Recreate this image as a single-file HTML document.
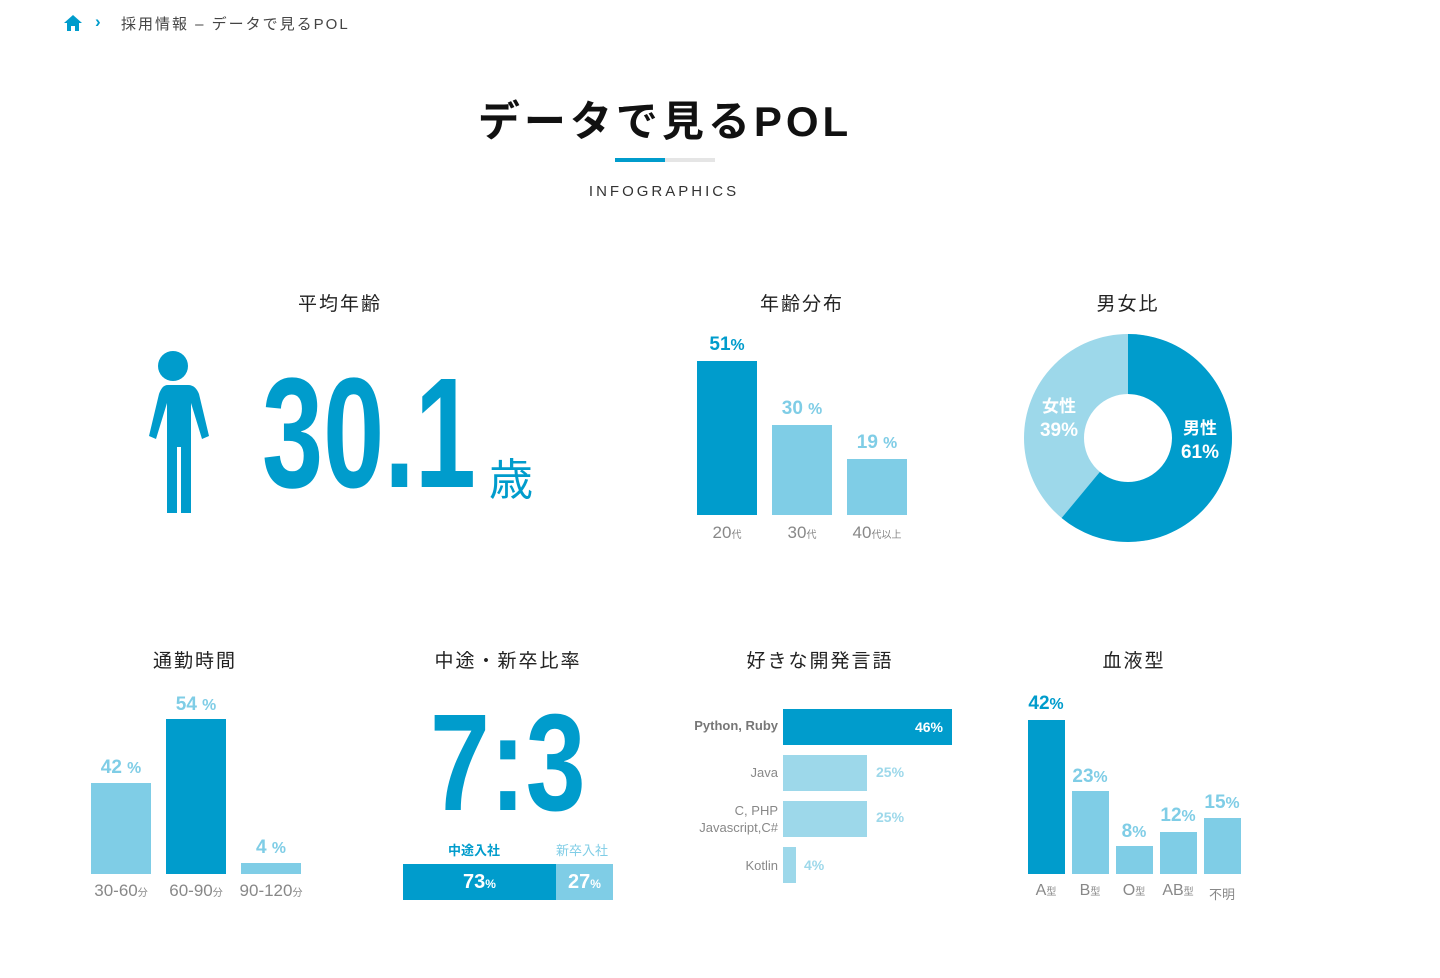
<!DOCTYPE html>
<html><head><meta charset="utf-8"><style>
body{margin:0;width:1440px;height:978px;background:#fff;position:relative;overflow:hidden;font-family:"Liberation Sans","Noto Sans CJK JP",sans-serif;color:#222}
.a{position:absolute}
.t{position:absolute;font-size:19px;letter-spacing:2px;text-align:center;width:300px;color:#222}
.dk{background:#009ccc}.lt{background:#7fcde6}.lt2{background:#9dd8ea}
.pc{position:absolute;font-weight:bold;font-size:19px;text-align:center;width:80px}
.lb{position:absolute;color:#888;font-size:17px;text-align:center;width:80px}
.lb small{font-size:10px}
</style></head><body>
<svg class="a" style="left:63px;top:14px" width="20" height="18" viewBox="0 0 20 18"><path d="M10 1L1 9h3v8h4v-5h4v5h4V9h3z" fill="#009ccc"/></svg>
<div class="a" style="left:95px;top:12px;color:#009ccc;font-size:17px;font-weight:bold">&#8250;</div>
<div class="a" style="left:121px;top:13px;font-size:15px;color:#444;letter-spacing:2px">採用情報 – データで見るPOL</div>
<div class="a" style="left:0;width:1330px;top:88px;text-align:center;font-size:42px;font-weight:bold;letter-spacing:4px;color:#111">データで見るPOL</div>
<div class="a" style="left:615px;top:158px;width:50px;height:4px;background:#009ccc"></div>
<div class="a" style="left:665px;top:158px;width:50px;height:4px;background:#e5e5e5"></div>
<div class="a" style="left:514px;width:300px;top:183px;text-align:center;font-size:15px;letter-spacing:3px;color:#333">INFOGRAPHICS</div>

<div class="t" style="left:190px;top:289px">平均年齢</div>
<div class="t" style="left:652px;top:289px">年齢分布</div>
<div class="t" style="left:978px;top:289px">男女比</div>
<div class="t" style="left:45px;top:646px">通勤時間</div>
<div class="t" style="left:358px;top:646px">中途・新卒比率</div>
<div class="t" style="left:670px;top:646px">好きな開発言語</div>
<div class="t" style="left:984px;top:646px">血液型</div>

<svg class="a" style="left:136px;top:349px" width="74" height="168" viewBox="0 0 74 168"><circle cx="37" cy="17" r="15" fill="#009ccc"/><path d="M22 36h30c6 0 9 4 11 9l10 42-7 3-11-36v110h-10V98h-4v66H31V54L20 90l-7-3 10-42c2-5 4-9 9-9z" fill="#009ccc"/></svg>
<div class="a" style="left:262px;top:355px;font-size:157px;font-weight:bold;color:#009ccc;line-height:157px;transform:scaleX(0.7);transform-origin:0 0;white-space:nowrap">30.1</div>
<div class="a" style="left:489px;top:444px;font-size:44px;color:#009ccc">歳</div>

<div class="a dk" style="left:697px;top:361px;width:60px;height:154px"></div>
<div class="a lt" style="left:772px;top:425px;width:60px;height:90px"></div>
<div class="a lt" style="left:847px;top:459px;width:60px;height:56px"></div>
<div class="pc" style="left:687px;top:334px;color:#009ccc">51<small>%</small></div>
<div class="pc" style="left:762px;top:398px;color:#7fcde6">30 <small>%</small></div>
<div class="pc" style="left:837px;top:432px;color:#7fcde6">19 <small>%</small></div>
<div class="lb" style="left:687px;top:523px">20<small>代</small></div>
<div class="lb" style="left:762px;top:523px">30<small>代</small></div>
<div class="lb" style="left:837px;top:523px">40<small>代以上</small></div>

<svg class="a" style="left:1020px;top:330px" width="216" height="216" viewBox="-108 -108 216 216">
<circle r="74" fill="none" stroke="#9dd8ea" stroke-width="60"/>
<circle r="74" fill="none" stroke="#009ccc" stroke-width="60" stroke-dasharray="283.6 1000" transform="rotate(-90)"/>
<text x="72" y="-4" fill="#fff" font-size="17" font-weight="bold" text-anchor="middle" font-family="Liberation Sans,Noto Sans CJK JP,sans-serif">男性</text>
<text x="72" y="20" fill="#fff" font-size="19" font-weight="bold" text-anchor="middle" font-family="Liberation Sans,sans-serif">61%</text>
<text x="-69" y="-26" fill="#fff" font-size="17" font-weight="bold" text-anchor="middle" font-family="Liberation Sans,Noto Sans CJK JP,sans-serif">女性</text>
<text x="-69" y="-2" fill="#fff" font-size="19" font-weight="bold" text-anchor="middle" font-family="Liberation Sans,sans-serif">39%</text>
</svg>

<div class="a lt" style="left:91px;top:783px;width:60px;height:91px"></div>
<div class="a dk" style="left:166px;top:719px;width:60px;height:155px"></div>
<div class="a lt" style="left:241px;top:863px;width:60px;height:11px"></div>
<div class="pc" style="left:81px;top:757px;color:#7fcde6">42 <small>%</small></div>
<div class="pc" style="left:156px;top:694px;color:#7fcde6">54 <small>%</small></div>
<div class="pc" style="left:231px;top:837px;color:#7fcde6">4 <small>%</small></div>
<div class="lb" style="left:81px;top:881px">30-60<small>分</small></div>
<div class="lb" style="left:156px;top:881px">60-90<small>分</small></div>
<div class="lb" style="left:231px;top:881px">90-120<small>分</small></div>

<div class="a" style="left:430px;top:694px;font-size:138px;font-weight:bold;color:#009ccc;line-height:138px;transform:scaleX(0.78);transform-origin:0 0;white-space:nowrap">7:3</div>
<div class="a" style="left:448px;top:840px;font-size:13px;font-weight:bold;color:#009ccc">中途入社</div>
<div class="a" style="left:556px;top:840px;font-size:13px;color:#7fcde6">新卒入社</div>
<div class="a dk" style="left:403px;top:864px;width:153px;height:36px;color:#fff;font-weight:bold;font-size:20px;text-align:center;line-height:36px">73<small style="font-size:12px">%</small></div>
<div class="a lt" style="left:556px;top:864px;width:57px;height:36px;color:#fff;font-weight:bold;font-size:20px;text-align:center;line-height:36px">27<small style="font-size:12px">%</small></div>

<div class="a dk" style="left:783px;top:709px;width:169px;height:36px;color:#fff;font-weight:bold;font-size:14px;text-align:right;line-height:36px;box-sizing:border-box;padding-right:9px">46%</div>
<div class="a lt2" style="left:783px;top:755px;width:84px;height:36px"></div>
<div class="a lt2" style="left:783px;top:801px;width:84px;height:36px"></div>
<div class="a lt2" style="left:783px;top:847px;width:13px;height:36px"></div>
<div class="a" style="left:876px;top:764px;color:#9dd8ea;font-size:14px;font-weight:bold">25%</div>
<div class="a" style="left:876px;top:809px;color:#9dd8ea;font-size:14px;font-weight:bold">25%</div>
<div class="a" style="left:804px;top:857px;color:#9dd8ea;font-size:14px;font-weight:bold">4%</div>
<div class="a" style="left:660px;width:118px;text-align:right;top:718px;color:#777;font-size:13px;font-weight:bold">Python, Ruby</div>
<div class="a" style="left:660px;width:118px;text-align:right;top:765px;color:#888;font-size:13px">Java</div>
<div class="a" style="left:660px;width:118px;text-align:right;top:802px;color:#888;font-size:13px;line-height:17px">C, PHP<br>Javascript,C#</div>
<div class="a" style="left:660px;width:118px;text-align:right;top:858px;color:#888;font-size:13px">Kotlin</div>

<div class="a dk" style="left:1028px;top:720px;width:37px;height:154px"></div>
<div class="a lt" style="left:1072px;top:791px;width:37px;height:83px"></div>
<div class="a lt" style="left:1116px;top:846px;width:37px;height:28px"></div>
<div class="a lt" style="left:1160px;top:832px;width:37px;height:42px"></div>
<div class="a lt" style="left:1204px;top:818px;width:37px;height:56px"></div>
<div class="pc" style="left:1006px;top:693px;color:#009ccc">42<small>%</small></div>
<div class="pc" style="left:1050px;top:766px;color:#7fcde6">23<small>%</small></div>
<div class="pc" style="left:1094px;top:821px;color:#7fcde6">8<small>%</small></div>
<div class="pc" style="left:1138px;top:805px;color:#7fcde6">12<small>%</small></div>
<div class="pc" style="left:1182px;top:792px;color:#7fcde6">15<small>%</small></div>
<div class="lb" style="left:1006px;top:882px;font-size:16px">A<small>型</small></div>
<div class="lb" style="left:1050px;top:882px;font-size:16px">B<small>型</small></div>
<div class="lb" style="left:1094px;top:882px;font-size:16px">O<small>型</small></div>
<div class="lb" style="left:1138px;top:882px;font-size:16px">AB<small>型</small></div>
<div class="lb" style="left:1182px;top:884px;font-size:13px">不明</div>
</body></html>
